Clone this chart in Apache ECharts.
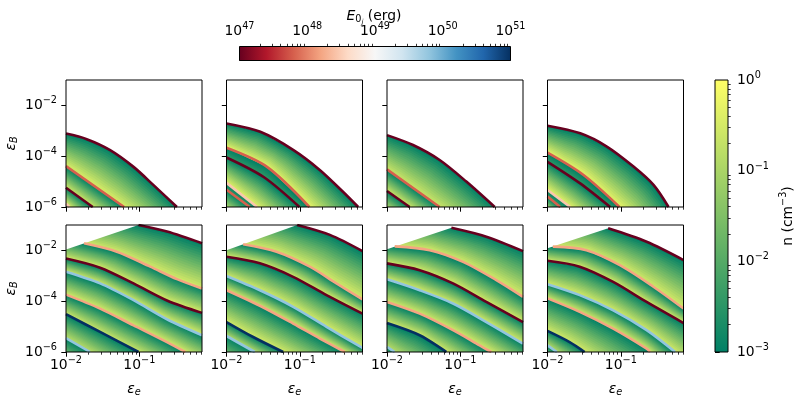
<!DOCTYPE html>
<html>
<head>
<meta charset="utf-8">
<script src="https://cdn.jsdelivr.net/npm/echarts@6/dist/echarts.min.js"></script>
<style>
  html, body { margin: 0; background: #fff; }
  #chart { width: 800px; height: 400px; }
</style>
</head>
<body>
<div id="chart"></div>
<script>
// axis ranges and ticks
const xRange = [0.01, 0.716];
const yRange = [1e-6, 0.1];
const xMajor = [0.01, 0.1];
const xMinor = [0.02, 0.03, 0.04, 0.05, 0.06, 0.07, 0.08, 0.09, 0.2, 0.3, 0.4, 0.5, 0.6, 0.7];
const yMajor = [1e-6, 1e-4, 1e-2];
const eTicks = [1e47, 1e48, 1e49, 1e50, 1e51];
const nTicks = [1e-3, 1e-2, 1e-1, 1];

// contour lines, points as [log10 eps_e, log10 eps_B]
// e = log10 E0j of the line, end = log10 n reached at the far side of the band below it
const top1 = [
  { e: 47, end: -0.4, p: [[-2, -3.11], [-1.717, -3.33], [-1.398, -3.76], [-1.079, -4.42], [-0.806, -5.14], [-0.487, -6]] },
  { e: 47.8, end: -0.6, p: [[-2, -4.39], [-1.207, -6]] },
  { e: 47, end: -0.4, p: [[-2, -5.24], [-1.635, -6]] },
  { e: 48.45, end: -2.5, p: [[-2, -5.87], [-1.954, -6]] }
];
const top2 = [
  { e: 47, end: -0.25, p: [[-2, -2.71], [-1.539, -3.04], [-1.086, -3.76], [-0.724, -4.55], [-0.408, -5.41], [-0.204, -6]] },
  { e: 47.8, end: -2.4, p: [[-2, -3.67], [-1.448, -4.42], [-0.869, -6]] },
  { e: 47, end: -0.3, p: [[-2, -4.05], [-1.493, -4.82], [-1.005, -6]] },
  { e: 48.45, end: -2.4, p: [[-2, -5.05], [-1.584, -6]] },
  { e: 47.8, end: -1.0, p: [[-2, -5.32], [-1.683, -6]] }
];
const top3 = [
  { e: 47, end: -0.6, p: [[-2, -3.17], [-1.645, -3.56], [-1.282, -4.15], [-0.918, -5.0], [-0.531, -6]] },
  { e: 47.8, end: -0.6, p: [[-2, -4.52], [-1.282, -6]] },
  { e: 47, end: -1.0, p: [[-2, -5.37], [-1.691, -6]] }
];
const top4 = [
  { e: 47, end: -0.25, p: [[-2, -2.80], [-1.554, -3.10], [-1.191, -3.62], [-0.827, -4.41], [-0.554, -5.13], [-0.349, -6]] },
  { e: 47.8, end: -2.4, p: [[-2, -3.86], [-1.509, -4.74], [-1.018, -6]] },
  { e: 47, end: -0.3, p: [[-2, -4.22], [-1.554, -5.07], [-1.145, -6]] },
  { e: 48.45, end: -2.4, p: [[-2, -5.33], [-1.691, -6]] },
  { e: 47.8, end: -1.2, p: [[-2, -5.59], [-1.827, -6]] }
];
const bot1 = [
  { e: 47, end: -0.5, p: [[-1.011, -1], [-0.623, -1.26], [-0.145, -1.72]] },
  { e: 48.2, end: -0.5, p: [[-1.754, -1.72], [-1.307, -2.05], [-0.851, -2.64], [-0.487, -3.13], [-0.145, -3.5]] },
  { e: 47, end: -0.5, p: [[-2, -2.32], [-1.535, -2.68], [-1.079, -3.30], [-0.623, -3.97], [-0.145, -4.46]] },
  { e: 49.8, end: -0.5, p: [[-2, -2.84], [-1.535, -3.30], [-1.079, -3.96], [-0.623, -4.71], [-0.145, -5.34]] },
  { e: 48.2, end: -0.6, p: [[-2, -3.74], [-1.535, -4.29], [-1.079, -4.95], [-0.623, -5.61], [-0.373, -6]] },
  { e: 51, end: -0.8, p: [[-2, -4.51], [-1.535, -5.21], [-1.011, -6]] },
  { e: 49.8, end: -1.8, p: [[-2, -5.45], [-1.672, -6]] }
];
const bot2 = [
  { e: 47, end: -0.5, p: [[-1.036, -1.0], [-0.590, -1.39], [-0.145, -2.03]] },
  { e: 48.2, end: -0.5, p: [[-1.773, -1.76], [-1.318, -2.05], [-0.863, -2.64], [-0.500, -3.30], [-0.145, -3.93]] },
  { e: 47, end: -0.5, p: [[-2, -2.25], [-1.545, -2.51], [-1.091, -3.04], [-0.636, -3.76], [-0.145, -4.49]] },
  { e: 49.8, end: -0.5, p: [[-2, -3.01], [-1.545, -3.57], [-1.091, -4.22], [-0.636, -5.01], [-0.145, -5.84]] },
  { e: 48.2, end: -0.5, p: [[-2, -3.57], [-1.545, -4.18], [-1.091, -4.88], [-0.727, -5.47], [-0.386, -6]] },
  { e: 51, end: -0.8, p: [[-2, -4.82], [-1.636, -5.41], [-1.227, -6]] },
  { e: 49.8, end: -1.8, p: [[-2, -5.37], [-1.614, -6]] }
];
const bot3 = [
  { e: 47, end: -0.5, p: [[-1.122, -1.11], [-0.645, -1.46], [-0.145, -2.03]] },
  { e: 48.2, end: -0.5, p: [[-1.895, -1.84], [-1.418, -1.99], [-0.963, -2.45], [-0.509, -3.17], [-0.145, -3.83]] },
  { e: 47, end: -0.5, p: [[-2, -2.51], [-1.554, -2.78], [-1.100, -3.30], [-0.645, -4.03], [-0.145, -4.82]] },
  { e: 49.8, end: -0.5, p: [[-2, -3.14], [-1.554, -3.57], [-1.100, -4.09], [-0.645, -4.82], [-0.145, -5.67]] },
  { e: 48.2, end: -0.5, p: [[-2, -4.03], [-1.554, -4.49], [-1.100, -5.14], [-0.736, -5.74], [-0.577, -6]] },
  { e: 51, end: -0.8, p: [[-2, -4.86], [-1.554, -5.34], [-1.191, -6]] },
  { e: 49.8, end: -2.2, p: [[-2, -5.80], [-1.895, -6]] }
];
const bot4 = [
  { e: 47, end: -0.5, p: [[-1.173, -1.13], [-0.648, -1.66], [-0.145, -2.38]] },
  { e: 48.2, end: -0.5, p: [[-1.927, -1.85], [-1.470, -1.99], [-1.013, -2.58], [-0.556, -3.43], [-0.145, -4.29]] },
  { e: 47, end: -0.5, p: [[-2, -2.41], [-1.561, -2.64], [-1.104, -3.24], [-0.648, -4.03], [-0.145, -4.86]] },
  { e: 49.8, end: -0.5, p: [[-2, -3.33], [-1.561, -3.76], [-1.104, -4.36], [-0.648, -5.14], [-0.259, -6]] },
  { e: 48.2, end: -0.5, p: [[-2, -3.89], [-1.561, -4.42], [-1.104, -5.08], [-0.648, -5.87], [-0.602, -6]] },
  { e: 51, end: -0.8, p: [[-2, -5.17], [-1.698, -5.61], [-1.493, -6]] },
  { e: 49.8, end: -2.0, p: [[-2, -5.74], [-1.872, -6]] }
];
// left end of the upper domain edge (eps_B ~ eps_e) in the lower panels
const edge1 = [-2, -1.96];
const edge2 = [-2, -1.99];
const edge3 = [-2, -1.95];
const edge4 = [-2, -1.92];

const panels = [top1, top2, top3, top4, bot1, bot2, bot3, bot4];
const edges = [null, null, null, null, edge1, edge2, edge3, edge4];

// colormaps
const rdbuStops = ['#67001f', '#b2182b', '#d6604d', '#f4a582', '#fddbc7', '#f7f7f7',
  '#d1e5f0', '#92c5de', '#4393c3', '#2166ac', '#053061'];
function hex(c) { return [1, 3, 5].map(i => parseInt(c.slice(i, i + 2), 16)); }
function rdbu(t) {
  t = Math.max(0, Math.min(1, t));
  const f = t * 10, i = Math.min(9, Math.floor(f)), k = f - i;
  const a = hex(rdbuStops[i]), b = hex(rdbuStops[i + 1]);
  return 'rgb(' + a.map((v, j) => Math.round(v + (b[j] - v) * k)).join(',') + ')';
}
function summer(logn) {
  const t = Math.max(0, Math.min(1, (logn + 3) / 3));
  return 'rgb(' + Math.round(255 * t) + ',' + Math.round(127.5 + 127.5 * t) + ',102)';
}

const font = 'DejaVu Sans';
const powRich = {
  b: { fontFamily: font, fontSize: 13.9, lineHeight: 20, color: '#000' },
  s: { fontFamily: font, fontSize: 9.7, lineHeight: 20, padding: [0, 0, 9, 0], color: '#000' }
};
function pow10(v) {
  const e = Math.round(Math.log10(v));
  return '{b|10}{s|' + (e < 0 ? '\u2212' : '') + Math.abs(e) + '}';
}
const epsRich = {
  i: { fontFamily: font, fontSize: 13.9, fontStyle: 'italic', lineHeight: 18, color: '#000' },
  u: { fontFamily: font, fontSize: 9.7, fontStyle: 'italic', lineHeight: 18, padding: [6, 0, 0, 0], color: '#000' }
};

const colLeft = [66, 226.5, 387, 547.5];
const rowTop = [80, 225];
const W = 136, H = 127;

const grids = [], xAxes = [], yAxes = [], series = [];

function resample(pts, n) {
  const cum = [0];
  for (let i = 1; i < pts.length; i++) {
    cum.push(cum[i - 1] + Math.hypot(pts[i][0] - pts[i - 1][0], pts[i][1] - pts[i - 1][1]));
  }
  const L = cum[cum.length - 1];
  const out = [];
  let j = 1;
  for (let k = 0; k <= n; k++) {
    const s = L * k / n;
    while (j < pts.length - 1 && cum[j] < s) j++;
    const seg = (cum[j] - cum[j - 1]) || 1;
    const f = Math.max(0, Math.min(1, (s - cum[j - 1]) / seg));
    out.push([pts[j - 1][0] + f * (pts[j][0] - pts[j - 1][0]), pts[j - 1][1] + f * (pts[j][1] - pts[j - 1][1])]);
  }
  return out;
}
// a line continued straight past both of its ends by len pixels
function extend(pts, len) {
  const n = pts.length;
  const ext = (a, b) => {
    const dx = a[0] - b[0], dy = a[1] - b[1], l = Math.hypot(dx, dy) || 1;
    return [a[0] + dx / l * len, a[1] + dy / l * len];
  };
  return [ext(pts[0], pts[1])].concat(pts, [ext(pts[n - 1], pts[n - 2])]);
}
// distance along the ray a + t*nrm to the polyline
function rayHit(a, nrm, pts) {
  let best = Infinity;
  for (let i = 1; i < pts.length; i++) {
    const p = pts[i - 1], q = pts[i];
    const ex = q[0] - p[0], ey = q[1] - p[1];
    const den = nrm[0] * ey - nrm[1] * ex;
    if (Math.abs(den) < 1e-9) continue;
    const wx = p[0] - a[0], wy = p[1] - a[1];
    const t = (wx * ey - wy * ex) / den;
    const s = (wx * nrm[1] - wy * nrm[0]) / den;
    if (t > 0 && s >= 0 && s <= 1 && t < best) best = t;
  }
  return best;
}

// each band is painted as thin strips parallel to its upper line, green at the line
function bandSeries(lines, p) {
  const N = 80, M = 18, far = 3000;
  return {
    type: 'custom', xAxisIndex: 2 * p, yAxisIndex: p, clip: true, silent: true, z: 1,
    data: lines.map((l, i) => [xRange[0], yRange[0], i]),
    renderItem(params, api) {
      const i = api.value(2);
      const cs = params.coordSys;
      const corner = [cs.x, cs.y + cs.height];
      const toPx = e => api.coord([Math.pow(10, e[0]), Math.pow(10, e[1])]);
      const U = resample(extend(lines[i].p.map(toPx), 220), N);
      const D = i + 1 < lines.length ? extend(lines[i + 1].p.map(toPx), 800) : null;
      const nr = [], wd = [];
      for (let k = 0; k <= N; k++) {
        const a = U[Math.max(0, k - 1)], b = U[Math.min(N, k + 1)];
        let tx = b[0] - a[0], ty = b[1] - a[1];
        const tl = Math.hypot(tx, ty) || 1;
        tx /= tl; ty /= tl;
        const nrm = [-ty, tx];
        nr.push(nrm);
        let d = D ? rayHit(U[k], nrm, D)
                  : (corner[0] - U[k][0]) * nrm[0] + (corner[1] - U[k][1]) * nrm[1];
        wd.push(d);
      }
      for (let k = 1; k <= N; k++) if (!isFinite(wd[k])) wd[k] = wd[k - 1];
      for (let k = N - 1; k >= 0; k--) if (!isFinite(wd[k])) wd[k] = wd[k + 1];
      for (let k = 0; k <= N; k++) wd[k] = isFinite(wd[k]) ? Math.max(2, wd[k]) : 20;
      const children = [];
      for (let j = 0; j < M; j++) {
        const s = j / M;
        const C = U.map((u, k) => [u[0] + nr[k][0] * wd[k] * s, u[1] + nr[k][1] * wd[k] * s]);
        const pts = C.concat([[C[N][0], far], [-far, far], [-far, C[0][1]]]);
        const col = summer(-3 + (lines[i].end + 3) * (j + 0.5) / M);
        children.push({ type: 'polygon', shape: { points: pts }, style: { fill: col } });
      }
      return { type: 'group', children };
    }
  };
}

// white above the domain edge of the lower panels
function maskSeries(lines, p, edge) {
  return {
    type: 'custom', xAxisIndex: 2 * p, yAxisIndex: p, clip: true, silent: true, z: 2,
    data: [[xRange[0], yRange[0]]],
    renderItem(params, api) {
      const cs = params.coordSys;
      const toPx = e => api.coord([Math.pow(10, e[0]), Math.pow(10, e[1])]);
      const E = toPx(edge), F = toPx(lines[0].p[0]);
      const t = (cs.y - E[1]) / (F[1] - E[1]);
      const X = E[0] + t * (F[0] - E[0]);
      return { type: 'polygon', shape: { points: [E, [X, cs.y], [cs.x - 5, cs.y - 5], [cs.x - 5, E[1]]] },
        style: { fill: '#fff' } };
    }
  };
}

panels.forEach((lines, p) => {
  const row = p < 4 ? 0 : 1, col = p % 4;
  grids.push({ left: colLeft[col], top: rowTop[row], width: W, height: H, show: true,
    borderColor: '#000', borderWidth: 1, backgroundColor: 'transparent', z: 10 });
  xAxes.push({
    type: 'log', gridIndex: p, min: xRange[0], max: xRange[1], position: 'bottom',
    axisLine: { show: false }, splitLine: { show: false },
    axisTick: { customValues: xMajor, length: 4.7, lineStyle: { color: '#000', width: 1 } },
    axisLabel: { show: row === 1, customValues: xMajor, formatter: pow10, rich: powRich, margin: 3 },
    name: row === 1 ? '{i|\u03b5}{u|e}' : '', nameLocation: 'middle', nameGap: 28,
    nameTextStyle: { rich: epsRich }
  });
  xAxes.push({
    type: 'log', gridIndex: p, min: xRange[0], max: xRange[1], position: 'bottom',
    axisLine: { show: false }, splitLine: { show: false },
    axisTick: { customValues: xMinor, length: 2.7, lineStyle: { color: '#000', width: 0.8 } },
    axisLabel: { show: false }
  });
  yAxes.push({
    type: 'log', gridIndex: p, min: yRange[0], max: yRange[1], position: 'left',
    axisLine: { show: false }, splitLine: { show: false },
    axisTick: { customValues: yMajor, length: 4.7, lineStyle: { color: '#000', width: 1 } },
    axisLabel: { show: col === 0, customValues: yMajor, formatter: pow10, rich: powRich, margin: 9 },
    name: col === 0 ? '{i|\u03b5}{u|B}' : '', nameLocation: 'middle', nameGap: 46,
    nameTextStyle: { rich: epsRich }
  });

  series.push(bandSeries(lines, p));
  if (edges[p]) series.push(maskSeries(lines, p, edges[p]));
  lines.forEach(l => {
    series.push({
      type: 'line', xAxisIndex: 2 * p, yAxisIndex: p, z: 3, silent: true,
      showSymbol: false, symbol: 'none', smooth: 0.3,
      lineStyle: { color: rdbu((l.e - 47) / 4), width: 2.6 },
      data: l.p.map(e => [Math.pow(10, e[0]), Math.pow(10, e[1])])
    });
  });
});

// minor ticks of the colourbars
const eMinor = [], nMinor = [];
for (let d = 47; d < 51; d++) for (let k = 2; k < 10; k++) eMinor.push(k * Math.pow(10, d));
for (let d = -3; d < 0; d++) for (let k = 2; k < 10; k++) nMinor.push(k * Math.pow(10, d));

// top colourbar (E0j); the max is nudged so the last tick survives rounding
const eMax = eTicks[4] * 1.000001;
grids.push({ left: 239.5, top: 46.5, width: 271, height: 14, show: true,
  borderColor: '#000', borderWidth: 1, backgroundColor: 'transparent', z: 10 });
xAxes.push({
  type: 'log', gridIndex: 8, min: eTicks[0], max: eMax, position: 'top',
  axisLine: { show: false }, splitLine: { show: false },
  axisTick: { customValues: eTicks, length: 4.7, lineStyle: { color: '#000', width: 1 } },
  axisLabel: { customValues: eTicks, formatter: pow10, rich: powRich, margin: 5.5 }
});
xAxes.push({
  type: 'log', gridIndex: 8, min: eTicks[0], max: eMax, position: 'top',
  axisLine: { show: false }, splitLine: { show: false },
  axisTick: { customValues: eMinor, length: 2.7, lineStyle: { color: '#000', width: 0.8 } },
  axisLabel: { show: false }
});
yAxes.push({ type: 'value', gridIndex: 8, min: 0, max: 1, show: false });
series.push({
  type: 'custom', xAxisIndex: 16, yAxisIndex: 8, silent: true, data: [[eTicks[0], 0]],
  renderItem(params) {
    const cs = params.coordSys;
    return { type: 'rect', shape: { x: cs.x, y: cs.y, width: cs.width, height: cs.height },
      style: { fill: { type: 'linear', x: 0, y: 0, x2: 1, y2: 0,
        colorStops: rdbuStops.map((c, i) => ({ offset: i / 10, color: c })) } } };
  }
});

// right colourbar (n)
grids.push({ left: 715, top: 80, width: 13, height: 272, show: true,
  borderColor: '#000', borderWidth: 1, backgroundColor: 'transparent', z: 10 });
xAxes.push({ type: 'value', gridIndex: 9, min: 0, max: 1, show: false });
yAxes.push({
  type: 'log', gridIndex: 9, min: nTicks[0], max: nTicks[3], position: 'right',
  axisLine: { show: false }, splitLine: { show: false },
  axisTick: { customValues: nTicks, length: 4.7, lineStyle: { color: '#000', width: 1 } },
  axisLabel: { customValues: nTicks, formatter: pow10, rich: powRich, margin: 9 },
  name: 'n (cm{s|\u22123})', nameLocation: 'middle', nameGap: 50,
  nameTextStyle: { fontFamily: font, fontSize: 13.9, lineHeight: 20, color: '#000',
    rich: { s: { fontFamily: font, fontSize: 9.7, lineHeight: 20, padding: [0, 0, 9, 0], color: '#000' } } }
});
yAxes.push({
  type: 'log', gridIndex: 9, min: nTicks[0], max: nTicks[3], position: 'right',
  axisLine: { show: false }, splitLine: { show: false },
  axisTick: { customValues: nMinor, length: 2.7, lineStyle: { color: '#000', width: 0.8 } },
  axisLabel: { show: false }
});
series.push({
  type: 'custom', xAxisIndex: 18, yAxisIndex: 9, silent: true, data: [[0, nTicks[0]]],
  renderItem(params) {
    const cs = params.coordSys;
    return { type: 'rect', shape: { x: cs.x, y: cs.y, width: cs.width, height: cs.height },
      style: { fill: { type: 'linear', x: 0, y: 1, x2: 0, y2: 0,
        colorStops: [{ offset: 0, color: summer(-3) }, { offset: 1, color: summer(0) }] } } };
  }
});

const chart = echarts.init(document.getElementById('chart'));
chart.setOption({
  animation: false,
  backgroundColor: '#fff',
  title: {
    text: '{i|E}{s|0}{ss|j} (erg)', left: 369, top: 0, textAlign: 'center',
    textStyle: {
      fontFamily: font, fontSize: 13.9, fontWeight: 'normal', color: '#000', lineHeight: 22,
      rich: {
        i: { fontFamily: font, fontSize: 13.9, fontStyle: 'italic', lineHeight: 22, color: '#000' },
        s: { fontFamily: font, fontSize: 9.7, lineHeight: 22, padding: [6, 0, 0, 0], color: '#000' },
        ss: { fontFamily: font, fontSize: 7, fontStyle: 'italic', lineHeight: 22, padding: [12, 0, 0, 0], color: '#000' }
      }
    }
  },
  grid: grids,
  xAxis: xAxes,
  yAxis: yAxes,
  series: series
});
</script>
</body>
</html>
